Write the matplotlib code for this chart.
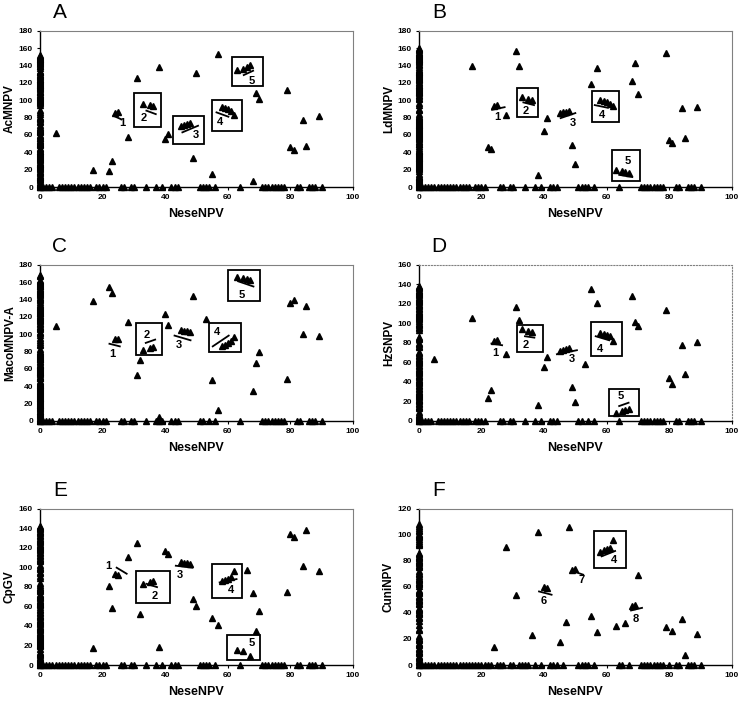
import matplotlib
matplotlib.use("Agg")
import matplotlib.pyplot as plt
from matplotlib.patches import Rectangle

plt.rcParams["font.family"] = ["Liberation Sans", "DejaVu Sans"]

# gene order plots: NeseNPV ORF (x) vs. ORF in the other genome (y)
# scattered homologs
x_A = [5, 17, 22, 23, 24, 25, 28, 31, 33, 35, 36, 38, 40, 41, 45, 46, 47, 48, 49, 50, 55, 57,
       58, 59, 60, 61, 62, 63, 65, 66, 67, 68, 69, 70, 79, 80, 81, 84, 85, 89]
y_A = [62, 20, 18, 30, 85, 86, 58, 126, 96, 94, 93, 138, 55, 61, 70, 72, 73, 74, 33, 131, 15, 153,
       92, 91, 90, 88, 83, 135, 136, 138, 141, 7, 108, 102, 112, 46, 43, 77, 47, 82]

x_B = [17, 22, 23, 24, 25, 28, 31, 32, 33, 35, 36, 38, 40, 41, 45, 46, 47, 48, 49, 50, 55, 57,
       58, 59, 60, 61, 62, 63, 65, 66, 67, 68, 69, 70, 79, 80, 81, 84, 85, 89]
y_B = [139, 46, 44, 93, 95, 83, 157, 140, 104, 102, 100, 14, 64, 80, 85, 86, 87, 88, 48, 27, 119, 137,
       100, 99, 98, 96, 93, 20, 18, 17, 16, 122, 143, 107, 155, 54, 51, 91, 57, 92]

x_C = [5, 17, 22, 23, 24, 25, 28, 31, 32, 33, 35, 36, 38, 40, 41, 45, 46, 47, 48, 49, 53, 55, 57,
       58, 59, 60, 61, 62, 63, 65, 66, 67, 68, 69, 70, 79, 80, 81, 84, 85, 89]
y_C = [110, 138, 154, 148, 95, 94, 114, 53, 70, 82, 84, 85, 5, 123, 111, 105, 104, 104, 103, 144, 118, 47, 13,
       86, 88, 90, 92, 97, 166, 165, 164, 163, 35, 67, 79, 48, 136, 140, 100, 132, 98]

x_D = [5, 17, 22, 23, 24, 25, 28, 31, 32, 33, 35, 36, 38, 40, 41, 45, 46, 47, 48, 49, 50, 53, 55, 57,
       58, 59, 60, 61, 62, 63, 65, 66, 67, 68, 69, 70, 79, 80, 81, 84, 85, 89]
y_D = [64, 105, 24, 32, 82, 83, 69, 117, 103, 94, 92, 91, 16, 55, 66, 72, 73, 74, 75, 35, 19, 58, 135, 121,
       90, 89, 88, 87, 82, 8, 10, 11, 12, 128, 101, 97, 114, 44, 38, 78, 48, 81]

x_E = [17, 22, 23, 24, 25, 28, 31, 32, 33, 35, 36, 38, 40, 41, 45, 46, 47, 48, 49, 50, 55, 57,
       58, 59, 60, 61, 62, 66, 63, 65, 67, 68, 69, 70, 79, 80, 81, 84, 85, 89]
y_E = [17, 81, 58, 93, 92, 111, 125, 52, 83, 85, 86, 18, 117, 114, 106, 105, 104, 103, 68, 60, 48, 41,
       86, 87, 88, 90, 96, 97, 15, 14, 9, 74, 35, 55, 75, 134, 131, 101, 138, 96]

x_F = [24, 28, 31, 36, 38, 40, 41, 45, 47, 48, 49, 50, 55, 57, 58, 59, 60, 61, 62, 63, 66,
       68, 69, 70, 79, 81, 84, 85, 89]
y_F = [14, 91, 54, 23, 102, 60, 59, 18, 33, 106, 73, 74, 38, 25, 87, 88, 89, 90, 96, 30, 32,
       45, 46, 69, 29, 26, 35, 8, 24]

# NeseNPV ORFs without a homolog (row on the x axis)
row_A = [0, 1, 2, 3, 4, 6, 7, 8, 9, 10, 11, 12, 13, 14, 15, 16, 18, 19, 20, 21, 26, 27, 29, 30, 34, 37, 39,
         42, 43, 44, 51, 52, 53, 54, 56, 64, 71, 72, 73, 74, 75, 76, 77, 78, 82, 83, 86, 87, 88, 90]
row_B = [0, 1, 2, 3, 4, 5, 6, 7, 8, 9, 10, 11, 12, 13, 14, 15, 16, 18, 19, 20, 21, 26, 27, 29, 30, 34, 37, 39,
         42, 43, 44, 51, 52, 53, 54, 56, 64, 71, 72, 73, 74, 75, 76, 77, 78, 82, 83, 86, 87, 88, 90]
row_C = [0, 1, 2, 3, 4, 6, 7, 8, 9, 10, 11, 12, 13, 14, 15, 16, 18, 19, 20, 21, 26, 27, 29, 30, 34, 37, 38, 39,
         42, 43, 44, 51, 52, 54, 56, 64, 71, 72, 73, 74, 75, 76, 77, 78, 82, 83, 86, 87, 88, 90]
row_D = [0, 1, 2, 3, 4, 6, 7, 8, 9, 10, 11, 12, 13, 14, 15, 16, 18, 19, 20, 21, 26, 27, 29, 30, 34, 37, 39,
         42, 43, 44, 51, 52, 54, 56, 64, 71, 72, 73, 74, 75, 76, 77, 78, 82, 83, 86, 87, 88, 90]
row_E = [0, 1, 2, 3, 4, 5, 6, 7, 8, 9, 10, 11, 12, 13, 14, 15, 16, 18, 19, 20, 21, 26, 27, 29, 30, 34, 37, 39,
         42, 43, 44, 51, 52, 53, 54, 56, 64, 71, 72, 73, 74, 75, 76, 77, 78, 82, 83, 86, 87, 88, 90]
row_F = [0, 1, 2, 3, 4, 5, 6, 7, 8, 9, 10, 11, 12, 13, 14, 15, 16, 17, 18, 19, 20, 21, 22, 23, 25, 26, 27,
         29, 30, 32, 33, 34, 35, 37, 39, 42, 43, 44, 46, 51, 52, 53, 54, 56, 64, 65, 67,
         71, 72, 73, 74, 75, 76, 77, 78, 80, 82, 83, 86, 87, 88, 90]

# number of ORFs in the other genome (top of the column at x = 0)
orfs = {"A": 153, "B": 160, "C": 168, "D": 138, "E": 142, "F": 108}

names = ["AcMNPV", "LdMNPV", "MacoMNPV-A", "HzSNPV", "CpGV", "CuniNPV"]
ymax = [180, 180, 180, 160, 160, 120]

# cluster annotations (data coords)
boxes = {
    "A": [(29.9, 68.7, 38.8, 108), (42.6, 50, 52.4, 82), (54.9, 65, 64.4, 100), (61.3, 116.7, 71.2, 150)],
    "B": [(31.3, 80.6, 38.2, 114), (55.2, 74.4, 63.8, 111), (61.7, 6.5, 70.7, 42.6)],
    "C": [(30.8, 75.8, 39.1, 113), (53.9, 79, 64.3, 113), (60.1, 138, 70.4, 173.5)],
    "D": [(31.2, 70.5, 39.6, 98), (55, 66.4, 65, 101), (60.6, 5.1, 70.3, 32.3)],
    "E": [(30.6, 64, 41.4, 96.3), (55.1, 69, 64.5, 103), (59.6, 4.8, 70.4, 30.8)],
    "F": [(55.9, 74.3, 66.2, 102.8)],
}
segs = {
    "A": [(23.5, 82, 26, 78), (34, 88, 37, 84), (45.5, 63, 50.5, 70.6), (56.4, 86, 60.2, 81), (65.1, 129, 68.1, 134)],
    "B": [(23.4, 89, 27.4, 92), (33.4, 97.5, 36.8, 94.4), (45.3, 79.4, 50, 85.2), (56.2, 94.4, 60.4, 91.3), (64, 14, 68.2, 11.5)],
    "C": [(22.2, 89, 25.5, 86), (33.8, 90, 36.8, 93.8), (43, 98.4, 48.1, 93), (55.2, 86, 60.3, 98.4), (63.3, 161, 68.2, 155)],
    "D": [(23.2, 79.3, 26.6, 77.6), (33.9, 86.8, 36.9, 85.4), (44.1, 68.4, 50.5, 72.5), (56.5, 86.8, 60.8, 82.7), (64, 15.3, 67, 18.7)],
    "E": [(24.5, 99.7, 27.7, 93.5), (34, 83.2, 37.4, 79.8), (43.4, 101.7, 48.7, 99.7), (57.4, 84.6, 62.8, 88)],
    "F": [(58.4, 83.5, 62.7, 87.6), (49.7, 71.7, 52.5, 69.4), (38.4, 56.5, 42.4, 54), (67.8, 41.9, 71.3, 43.9)],
}
labels = {
    "A": [("1", 26.4, 74), ("2", 33, 79), ("3", 49.8, 60), ("4", 57.4, 74.5), ("5", 67.7, 122)],
    "B": [("1", 25, 80.6), ("2", 34, 88), ("3", 49.1, 73.7), ("4", 58.4, 83), ("5", 66.8, 30)],
    "C": [("1", 23.1, 77.7), ("2", 34.1, 99.6), ("3", 44.3, 88), ("4", 56.5, 102), ("5", 64.4, 145.5)],
    "D": [("1", 24.5, 69.8), ("2", 34.1, 77.6), ("3", 49, 64), ("4", 58, 73.5), ("5", 64.6, 25.5)],
    "E": [("1", 21.8, 101.7), ("2", 36.6, 71), ("3", 44.8, 92.5), ("4", 61, 76.4), ("5", 67.8, 23)],
    "F": [("4", 62.3, 80.4), ("7", 52.1, 65.5), ("6", 40, 48.8), ("8", 69.3, 35.7)],
}

xs = {"A": x_A, "B": x_B, "C": x_C, "D": x_D, "E": x_E, "F": x_F}
ys = {"A": y_A, "B": y_B, "C": y_C, "D": y_D, "E": y_E, "F": y_F}
rows = {"A": row_A, "B": row_B, "C": row_C, "D": row_D, "E": row_E, "F": row_F}

fig = plt.figure(figsize=(7.4, 7.02), dpi=100)

letters = ["A", "B", "C", "D", "E", "F"]
lefts = [0.054, 0.566]
bottoms = [0.7336, 0.4003, 0.0527]
w, h = 0.423, 0.2225

for i, key in enumerate(letters):
    ax = fig.add_axes([lefts[i % 2], bottoms[i // 2], w, h])

    # genes of the other genome with no NeseNPV homolog
    col = [g for g in range(orfs[key] + 1) if g not in set(ys[key])]

    ax.plot(xs[key], ys[key], "^", color="black", ms=5, clip_on=False, zorder=5)
    ax.plot(rows[key], [0] * len(rows[key]), "^", color="black", ms=5, clip_on=False, zorder=5)
    ax.plot([0] * len(col), col, "^", color="black", ms=5, clip_on=False, zorder=5)

    for x0, y0, x1, y1 in boxes[key]:
        ax.add_patch(Rectangle((x0, y0), x1 - x0, y1 - y0, fill=False, ec="black", lw=1.3, zorder=4))
    for x0, y0, x1, y1 in segs[key]:
        ax.plot([x0, x1], [y0, y1], color="black", lw=1.3, zorder=6)
    for t, tx, ty in labels[key]:
        ax.text(tx, ty, t, fontsize=8, fontweight="bold", ha="center", va="center", zorder=6)

    ax.set_xlim(0, 100)
    ax.set_ylim(0, ymax[i])
    ax.set_xticks(range(0, 101, 20))
    ax.set_yticks(range(0, ymax[i] + 1, 20))
    ax.tick_params(labelsize=6, length=2.5, width=0.8, pad=2.5)
    for lab in ax.get_xticklabels() + ax.get_yticklabels():
        lab.set_fontweight("bold")

    ax.set_xlabel("NeseNPV", fontsize=9, fontweight="bold", labelpad=5)
    ax.set_ylabel(names[i], fontsize=8.5, fontweight="bold", labelpad=2)

    for s in ["left", "bottom"]:
        ax.spines[s].set_color("black")
        ax.spines[s].set_linewidth(1.0)
    for s in ["top", "right"]:
        ax.spines[s].set_color("#808080")
        ax.spines[s].set_linewidth(0.8)
        if key == "D":
            ax.spines[s].set_linestyle(":")

    fig.text(lefts[i % 2] + 0.027, bottoms[i // 2] + h + 0.026, key, fontsize=15, ha="center", va="center")

fig.savefig("out.png", dpi=100)
